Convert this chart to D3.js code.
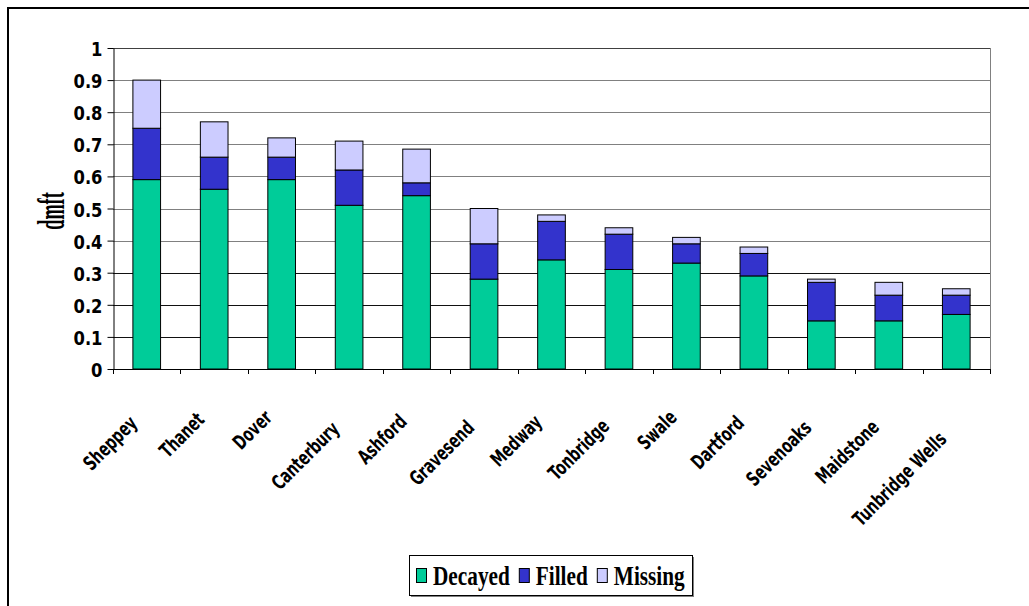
<!DOCTYPE html>
<html>
<head>
<meta charset="utf-8">
<script src="https://cdn.jsdelivr.net/npm/d3@7"></script>
<style>
  body { margin: 0; background: #fff; }
  svg { display: block; }
</style>
</head>
<body>
<svg id="chart" width="1029" height="606"></svg>
<script>
// data
var districts = ["Sheppey", "Thanet", "Dover", "Canterbury", "Ashford", "Gravesend", "Medway",
                 "Tonbridge", "Swale", "Dartford", "Sevenoaks", "Maidstone", "Tunbridge Wells"];
var decayed = [0.59, 0.56, 0.59, 0.51, 0.54, 0.28, 0.34, 0.31, 0.33, 0.29, 0.15, 0.15, 0.17];
var filled  = [0.16, 0.10, 0.07, 0.11, 0.04, 0.11, 0.12, 0.11, 0.06, 0.07, 0.12, 0.08, 0.06];
var missing = [0.15, 0.11, 0.06, 0.09, 0.105, 0.11, 0.02, 0.02, 0.02, 0.02, 0.01, 0.04, 0.02];
var seriesNames = ["Decayed", "Filled", "Missing"];
var seriesColors = ["#00CC99", "#3333CC", "#CCCCFF"];
var yTicks = [0, 0.1, 0.2, 0.3, 0.4, 0.5, 0.6, 0.7, 0.8, 0.9, 1];

var svg = d3.select("#chart");
var plotLeft = 113, plotRight = 990, plotTop = 48, plotBottom = 369;

var rows = districts.map(function(d, i) {
  return { district: d, Decayed: decayed[i], Filled: filled[i], Missing: missing[i] };
});

var x = d3.scaleBand().domain(districts).range([plotLeft, plotRight])
  .paddingInner(0.59).paddingOuter(0.295);
var y = d3.scaleLinear().domain([0, 1]).range([plotBottom, plotTop]);
var color = d3.scaleOrdinal().domain(seriesNames).range(seriesColors);

// outer chart frame (only top and left edges are in view)
svg.append("path")
  .attr("d", "M8,606 L8,8 L1029,8")
  .attr("fill", "none")
  .attr("stroke", "#000")
  .attr("stroke-width", 2);

// gridlines
function gridColor(v) {
  if (v > 0.95) return "#404040";
  if (v < 0.35) return "#111";
  return "#808080";
}
svg.append("g").selectAll("line")
  .data(yTicks.filter(function(v) { return v > 0; }))
  .enter().append("line")
  .attr("x1", plotLeft).attr("x2", plotRight)
  .attr("y1", function(v) { return Math.round(y(v)) + 0.5; })
  .attr("y2", function(v) { return Math.round(y(v)) + 0.5; })
  .attr("stroke", gridColor)
  .attr("stroke-width", 1);

// right edge of plot area
svg.append("line")
  .attr("x1", plotRight + 0.5).attr("x2", plotRight + 0.5)
  .attr("y1", plotTop).attr("y2", plotBottom)
  .attr("stroke", "#808080");

// stacked bars
var stack = d3.stack().keys(seriesNames)(rows);
svg.append("g").selectAll("g")
  .data(stack)
  .enter().append("g")
  .attr("fill", function(s) { return color(s.key); })
  .selectAll("rect")
  .data(function(s) { return s; })
  .enter().append("rect")
  .attr("x", function(d) { return x(d.data.district); })
  .attr("width", x.bandwidth())
  .attr("y", function(d) { return y(d[1]); })
  .attr("height", function(d) { return y(d[0]) - y(d[1]); })
  .attr("stroke", "#000")
  .attr("stroke-width", 1);

// y axis
var yAxis = svg.append("g")
  .attr("transform", "translate(" + (plotLeft + 0.5) + ",0)")
  .call(d3.axisLeft(y).tickValues(yTicks).tickSize(6).tickSizeOuter(0)
    .tickFormat(d3.format(".1~f")));
yAxis.select(".domain").attr("stroke", "#000");
yAxis.selectAll(".tick line").attr("stroke", "#000");
yAxis.selectAll(".tick text")
  .attr("x", null).attr("dy", null)
  .attr("transform", "translate(-11,7.5) scale(0.84,1)")
  .attr("text-anchor", "end")
  .attr("fill", "#000")
  .style("font-family", "'DejaVu Sans', Verdana, sans-serif")
  .style("font-weight", "bold")
  .style("font-size", "19.5px");

// x axis line and category boundary ticks
svg.append("line")
  .attr("x1", plotLeft).attr("x2", plotRight + 1)
  .attr("y1", plotBottom + 0.5).attr("y2", plotBottom + 0.5)
  .attr("stroke", "#000");
var bounds = districts.map(function(d) { return x(d) + x.bandwidth() / 2 - x.step() / 2; });
bounds.push(plotRight);
svg.append("g").selectAll("line")
  .data(bounds)
  .enter().append("line")
  .attr("x1", function(b) { return Math.round(b) + 0.5; })
  .attr("x2", function(b) { return Math.round(b) + 0.5; })
  .attr("y1", plotBottom).attr("y2", plotBottom + 5)
  .attr("stroke", "#000");

// rotated category labels
var labelScale = 0.68;
var labels = svg.append("g").selectAll("g")
  .data(districts)
  .enter().append("g");
labels.append("text")
  .attr("text-anchor", "end")
  .attr("transform", "scale(" + labelScale + ",1)")
  .style("font-family", "'DejaVu Sans', Verdana, sans-serif")
  .style("font-weight", "bold")
  .style("font-size", "20px")
  .text(function(d) { return d; });
labels.attr("transform", function(d) {
  var len = this.querySelector("text").getComputedTextLength() * labelScale;
  var cx = x(d) + x.bandwidth() / 2;
  return "translate(" + (cx - 8.5) + "," + (plotBottom + 37 + 0.28 * len) + ") rotate(-45)";
});

// y axis title
svg.append("text")
  .attr("transform", "translate(64,211) rotate(-90) scale(0.48,1)")
  .attr("text-anchor", "middle")
  .style("font-family", "'Liberation Serif', 'Times New Roman', serif")
  .style("font-weight", "bold")
  .style("font-size", "38px")
  .text("dmft");

// legend
var legend = svg.append("g");
var boxX = 409, boxY = 555, boxW = 283, boxH = 40;
legend.append("rect")
  .attr("x", boxX + 2).attr("y", boxY + 2)
  .attr("width", boxW).attr("height", boxH)
  .attr("fill", "#808080");
legend.append("rect")
  .attr("x", boxX + 0.5).attr("y", boxY + 0.5)
  .attr("width", boxW).attr("height", boxH)
  .attr("fill", "#fff").attr("stroke", "#000");

var legendScale = 0.76;
var cursor = boxX + 7;
seriesNames.forEach(function(name) {
  legend.append("rect")
    .attr("x", cursor + 0.5).attr("y", 568.5)
    .attr("width", 10).attr("height", 14)
    .attr("fill", color(name))
    .attr("stroke", "#000");
  var t = legend.append("text")
    .attr("transform", "translate(" + (cursor + 17) + ",585) scale(" + legendScale + ",1)")
    .style("font-family", "'Liberation Serif', 'Times New Roman', serif")
    .style("font-weight", "bold")
    .style("font-size", "28px")
    .text(name);
  cursor += 17 + t.node().getComputedTextLength() * legendScale + 9;
});
</script>
</body>
</html>
